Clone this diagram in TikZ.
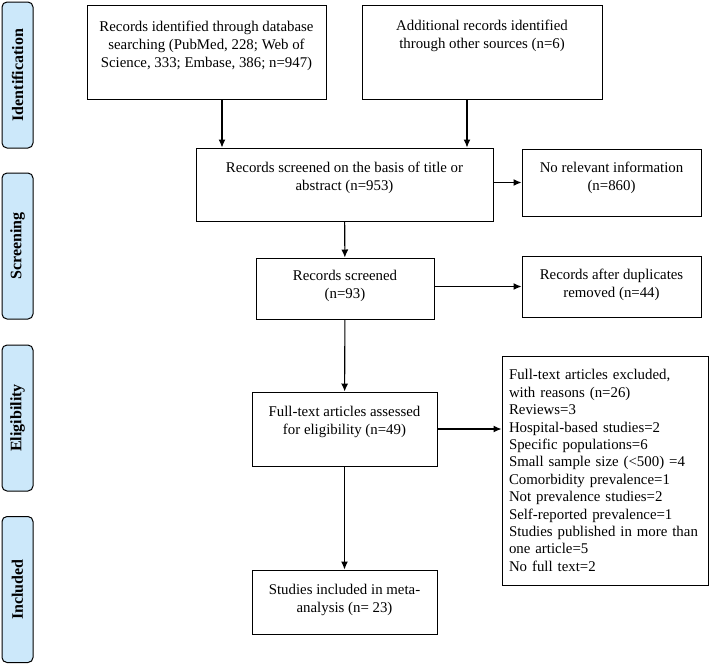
\documentclass[tikz,border=0pt]{standalone}
\usepackage{fontspec}
\setmainfont{Liberation Serif}
\usepackage[dvipsnames,usenames]{xcolor}
\usetikzlibrary{arrows.meta}
\definecolor{stageblue}{RGB}{204,232,250}

\begin{document}
\begin{tikzpicture}[x=1pt, y=-1pt,
  paths/.style={-{Latex[length=8pt,width=7pt]}, line width=1.1pt},
  box/.style={draw, line width=1pt, align=center, inner sep=0pt,
    font=\fontsize{14.85}{18}\selectfont},
  stage/.style={draw, line width=1pt, fill=stageblue, rounded corners=5pt,
    rotate=90, minimum width=146pt, minimum height=31pt, inner sep=0pt,
    font=\fontsize{16}{19}\selectfont\bfseries}]

 \useasboundingbox (0,0) rectangle (709,665);

 % stages
 \node [stage] (stage_id) at (17.5,75) {Identification};
 \node [stage] (stage_scr) at (17.5,246) {Screening};
 \node [stage] (stage_eli) at (17.5,418) {Eligibility};
 \node [stage] (stage_inc) at (17.5,589.5) {Included};


 \node [box, minimum width=239pt, minimum height=94pt, text depth=16pt] (records_db) at (206.5,52)
     {Records identified through database\\searching (PubMed, 228; Web of\\Science, 333; Embase, 386; n=947)};

 \node [box, minimum width=240pt, minimum height=94pt, text depth=35pt] (records_other) at (482,52)
     {Additional records identified\\through other sources (n=6)};

 \node [box, minimum width=297pt, minimum height=73pt, text depth=16pt] (screened_ta) at (344.5,184.5)
     {Records screened on the basis of title or\\abstract (n=953)};

 \node [box, minimum width=179pt, minimum height=67pt, text depth=12pt] (no_info) at (611.5,182.5)
     {No relevant information\\(n=860)};

 \node [box, minimum width=178pt, minimum height=61pt, text depth=8pt] (screened) at (345,288.5)
     {Records screened\\(n=93)};

 \node [box, minimum width=179pt, minimum height=61pt, text depth=6pt] (duplicates) at (611.5,286.5)
     {Records after duplicates\\removed (n=44)};

 \node [box, minimum width=185pt, minimum height=74pt, text depth=17pt] (fulltext) at (344.5,429)
     {Full-text articles assessed\\for eligibility (n=49)};

 \node [box, minimum width=206pt, minimum height=229pt, text width=192pt, inner xsep=7pt, align=left,
        font=\fontsize{14.85}{17.4}\selectfont] (excluded) at (605,470.5)
     {Full-text articles excluded,\\with reasons (n=26)\\Reviews=3\\Hospital-based studies=2\\
      Specific populations=6\\Small sample size (<500) =4\\Comorbidity prevalence=1\\
      Not prevalence studies=2\\Self-reported prevalence=1\\Studies published in more than\\
      one article=5\\No full text=2};

 \node [box, minimum width=185pt, minimum height=64pt, text depth=8pt] (included) at (344.5,602)
     {Studies included in meta-\\analysis (n= 23)};


 \draw [paths] ([xshift=15.5pt]records_db.south) -- ([xshift=15.5pt]records_db.south |- screened_ta.north);
 \draw [paths] ([xshift=-15pt]records_other.south) -- ([xshift=-15pt]records_other.south |- screened_ta.north);
 \draw [paths] (screened_ta.east |- no_info.west) -- (no_info.west);
 \draw [paths] (screened_ta) -- (screened);
 \draw [paths] (screened.east |- duplicates.west) -- (duplicates.west);
 \draw [paths] (screened) -- (fulltext);
 \draw [paths] (fulltext.east) -- (fulltext.east -| excluded.west);
 \draw [paths] (fulltext) -- (included);


\end{tikzpicture}
\end{document}
